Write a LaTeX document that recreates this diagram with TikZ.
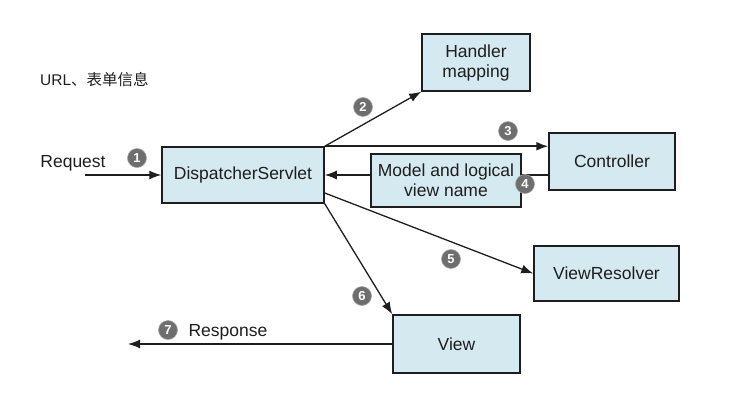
\documentclass[tikz,border=0pt]{standalone}
\usepackage{fontspec}
\setmainfont{Liberation Sans}
\newfontfamily\cjk{Noto Sans CJK SC}
\usetikzlibrary{arrows.meta}
\definecolor{boxfill}{HTML}{D5E9F0}
\definecolor{numfill}{HTML}{6E6E6E}
\definecolor{ink}{HTML}{1E1E1E}
\tikzset{
  box/.style={draw=ink, line width=1.5pt, fill=boxfill, rectangle, align=center,
    inner sep=0pt, font=\fontsize{17.5}{20}\selectfont, text=ink},
  conn/.style={draw=ink, line width=1.3pt},
  arr/.style={conn, -{Latex[length=12pt, width=9pt]}},
  num/.style={circle, fill=numfill, draw=numfill!60, line width=0.6pt, minimum size=19pt, inner sep=0pt,
    text=white, font=\fontsize{13}{13}\bfseries\selectfont},
  lbl/.style={font=\fontsize{17.5}{20}\selectfont, text=ink, inner sep=0pt}
}
\begin{document}
\begin{tikzpicture}[x=1pt, y=-1pt]
\useasboundingbox (0,0) rectangle (732,410);
\node[box, minimum width=162pt, minimum height=56pt] (DS) at (243,175) {DispatcherServlet};
\node[box, minimum width=108pt, minimum height=57pt] (HM) at (476,62.5) {Handler\\mapping};
\node[box, minimum width=126pt, minimum height=57pt] (Ctrl) at (612,161.5) {Controller};
\node[box, minimum width=150pt, minimum height=53pt] (Model) at (446,180.5) {Model and logical\\view name};
\node[box, minimum width=145pt, minimum height=55pt] (VR) at (606.5,273.5) {ViewResolver};
\node[box, minimum width=127pt, minimum height=58pt] (View) at (456.5,344) {View};

\coordinate (reqstart) at (85,175);
\coordinate (respend) at (128,344);

\node[anchor=west, inner sep=0pt, font=\fontsize{15.5}{18}\selectfont, text=ink] (url) at (40,80) {URL{\cjk 、表单信息}};
\node[lbl] (req) at (73,163) {Request};
\node[lbl] (resp) at (228,332) {Response};

\draw[arr] (reqstart) -- (DS.west);
\draw[arr] (DS.north east) -- (HM.south west);
\draw[arr, line width=1.7pt] (DS.north east) -- (DS.north east -| Ctrl.west);
\draw[conn] (Ctrl.west |- DS.east) -- (Model.east |- DS.east);
\draw[arr] (Model.west |- DS.east) -- (DS.east);
\draw[arr] ([yshift=-18pt]DS.east) -- (VR.west);
\draw[arr] (DS.south east) -- (View.north west);
\draw[arr] (View.west) -- (respend);

\node[num] (n1) at (137,158) {1};
\node[num] (n2) at (363,107) {2};
\node[num] (n3) at (508,131) {3};
\node[num] (n4) at (525,184) {4};
\node[num] (n5) at (451,259) {5};
\node[num] (n6) at (362,296) {6};
\node[num] (n7) at (168,330) {7};
\end{tikzpicture}
\end{document}
